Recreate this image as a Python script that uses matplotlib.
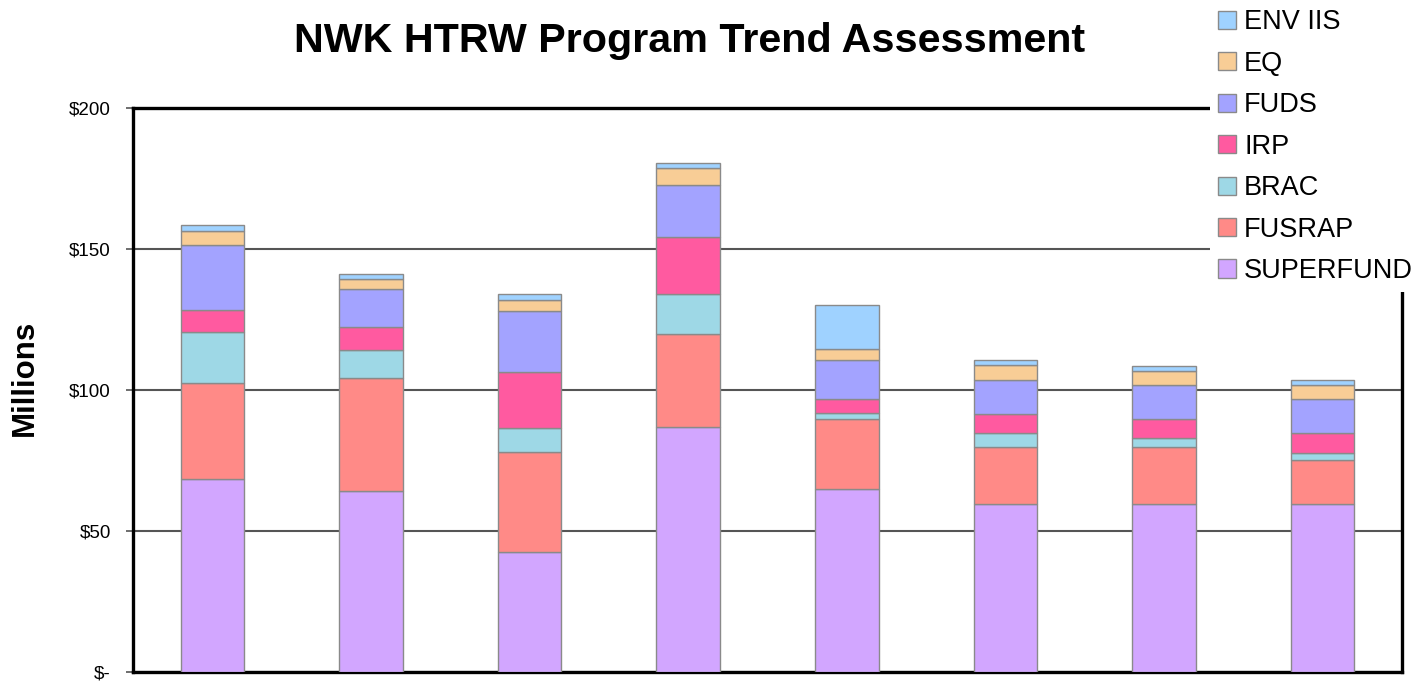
import matplotlib
matplotlib.use('Agg')
import numpy as np
import matplotlib.pyplot as plt

# Datos (millones de dolares), 8 periodos sin etiqueta
programas = ['SUPERFUND', 'FUSRAP', 'BRAC', 'IRP', 'FUDS', 'EQ', 'ENV IIS']
superfund = [68.4, 64.3, 42.5, 87.0, 64.8, 59.5, 59.5, 59.5]
fusrap = [34.0, 40.0, 35.4, 33.0, 25.0, 20.3, 20.3, 15.6]
brac = [18.0, 10.0, 8.5, 14.2, 1.9, 4.9, 3.0, 2.7]
irp = [8.0, 8.0, 20.0, 20.0, 5.0, 6.9, 6.9, 7.1]
fuds = [23.0, 13.6, 21.6, 18.6, 14.0, 11.8, 12.1, 11.9]
eq = [5.0, 3.3, 3.8, 6.0, 3.9, 5.6, 5.0, 5.0]
env_iis = [2.0, 2.0, 2.4, 1.7, 15.4, 1.5, 1.8, 1.8]

colores = ['#D2A6FF', '#FF8A87', '#9ED8E6', '#FF5AA0',
           '#A3A3FF', '#F8CD96', '#9FD2FF']

ticks_y = [0, 50, 100, 150, 200]
etiquetas_y = ['$-', '$50', '$100', '$150', '$200']

series = [superfund, fusrap, brac, irp, fuds, eq, env_iis]

fig = plt.figure(figsize=(14.28, 6.83), dpi=100)
ax = fig.add_axes([0.0931, 0.0161, 0.8887, 0.8258])

x = np.arange(len(superfund))
base = np.zeros(len(superfund))
handles = []
for nombre, valores, color in zip(programas, series, colores):
    barras = ax.bar(x, valores, width=0.4, bottom=base, color=color,
                    edgecolor='#8a8a8a', linewidth=1.0, label=nombre,
                    zorder=3)
    handles.append(barras)
    base = base + np.array(valores)

ax.set_xlim(-0.5, len(superfund) - 0.5)
ax.set_ylim(0, 200)
ax.set_xticks([])
ax.set_yticks(ticks_y)
ax.set_yticklabels(etiquetas_y, fontsize=13.5, family='Liberation Sans')
ax.tick_params(axis='y', length=5, width=1.2, color='#555555', pad=11)
ax.yaxis.grid(True, color='#555555', linewidth=1.5, zorder=0)

for lado in ['left', 'top', 'right', 'bottom']:
    ax.spines[lado].set_linewidth(2.4)
    ax.spines[lado].set_color('black')

fig.text(0.0175, 0.4466, 'Millions', rotation=90, fontsize=22.5,
         fontweight='bold', family='Liberation Sans', ha='center',
         va='center')
fig.text(0.483, 0.94, 'NWK HTRW Program Trend Assessment', fontsize=29.7,
         fontweight='bold', family='Liberation Sans', ha='center',
         va='center')

leg = fig.legend(handles[::-1], programas[::-1], loc='upper left',
                 bbox_to_anchor=(0.838, 1.018),
                 prop={'family': 'Liberation Sans', 'size': 19.5},
                 handlelength=0.65, handleheight=0.65, handletextpad=0.3,
                 labelspacing=0.57, borderpad=0.3, frameon=True,
                 fancybox=False, edgecolor='none', facecolor='white',
                 framealpha=1)

plt.savefig('out.png', dpi=100)
plt.close()
